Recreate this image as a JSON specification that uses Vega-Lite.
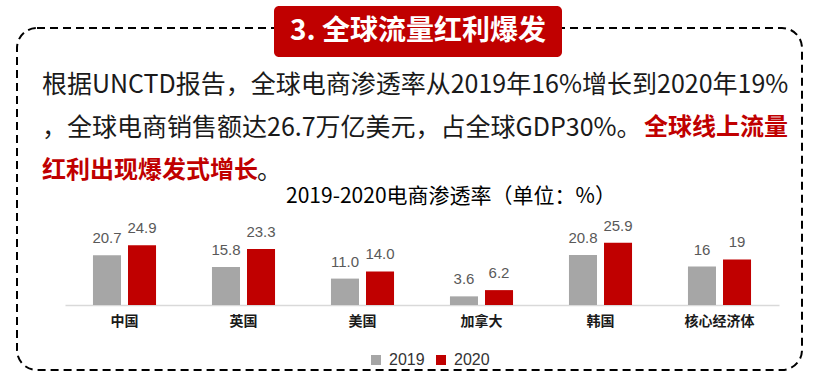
{
  "$schema": "https://vega.github.io/schema/vega-lite/v6.json",
  "width": 714,
  "height": 84,
  "autosize": {"type": "none"},
  "padding": {"left": 65, "top": 221, "right": 43, "bottom": 75},
  "background": "#ffffff",
  "config": {"view": {"stroke": null}},
  "datasets": {
    "rates": [
      {"country": "中国", "year": "2019", "value": 20.7, "label": "20.7"},
      {"country": "中国", "year": "2020", "value": 24.9, "label": "24.9"},
      {"country": "英国", "year": "2019", "value": 15.8, "label": "15.8"},
      {"country": "英国", "year": "2020", "value": 23.3, "label": "23.3"},
      {"country": "美国", "year": "2019", "value": 11.0, "label": "11.0"},
      {"country": "美国", "year": "2020", "value": 14.0, "label": "14.0"},
      {"country": "加拿大", "year": "2019", "value": 3.6, "label": "3.6"},
      {"country": "加拿大", "year": "2020", "value": 6.2, "label": "6.2"},
      {"country": "韩国", "year": "2019", "value": 20.8, "label": "20.8"},
      {"country": "韩国", "year": "2020", "value": 25.9, "label": "25.9"},
      {"country": "核心经济体", "year": "2019", "value": 16, "label": "16"},
      {"country": "核心经济体", "year": "2020", "value": 19, "label": "19"}
    ]
  },
  "data": {"name": "rates"},
  "layer": [
    {
      "data": {"values": [{}]},
      "mark": {"type": "rect", "x": -48, "x2": 737, "y": -193, "y2": 149, "fill": "transparent", "stroke": "#000000", "strokeWidth": 2, "strokeDash": [8, 5], "cornerRadius": 20},
      "encoding": {}
    },
    {
      "data": {"values": [{}]},
      "mark": {"type": "rect", "x": 209, "x2": 497, "y": -215, "y2": -164, "fill": "#c00000", "cornerRadius": 5},
      "encoding": {}
    },
    {
      "data": {"values": [{}]},
      "mark": {"type": "text", "text": "3. 全球流量红利爆发", "x": 353, "y": -189, "align": "center", "baseline": "middle", "font": "Noto Sans CJK SC", "fontSize": 28, "fontWeight": "bold", "color": "#ffffff"},
      "encoding": {}
    },
    {
      "data": {"values": [{}]},
      "mark": {"type": "text", "text": "根据UNCTD报告，全球电商渗透率从2019年16%增长到2020年19%", "x": -23, "y": -136, "align": "left", "baseline": "middle", "font": "Noto Sans CJK SC", "fontSize": 25, "color": "#1a1a1a"},
      "encoding": {}
    },
    {
      "data": {"values": [{}]},
      "mark": {"type": "text", "text": "，全球电商销售额达26.7万亿美元，占全球GDP30%。", "x": -23, "y": -93, "align": "left", "baseline": "middle", "font": "Noto Sans CJK SC", "fontSize": 25, "color": "#1a1a1a"},
      "encoding": {}
    },
    {
      "data": {"values": [{}]},
      "mark": {"type": "text", "text": "全球线上流量", "x": 723, "y": -93, "align": "right", "baseline": "middle", "font": "Noto Sans CJK SC", "fontSize": 24, "fontWeight": "bold", "color": "#c00000"},
      "encoding": {}
    },
    {
      "data": {"values": [{}]},
      "mark": {"type": "text", "text": "红利出现爆发式增长", "x": -23, "y": -50, "align": "left", "baseline": "middle", "font": "Noto Sans CJK SC", "fontSize": 24, "fontWeight": "bold", "color": "#c00000"},
      "encoding": {}
    },
    {
      "data": {"values": [{}]},
      "mark": {"type": "text", "text": "。", "x": 192, "y": -50, "align": "left", "baseline": "middle", "font": "Noto Sans CJK SC", "fontSize": 25, "color": "#1a1a1a"},
      "encoding": {}
    },
    {
      "data": {"values": [{}]},
      "mark": {"type": "text", "text": "2019-2020电商渗透率（单位：%）", "x": 386, "y": -24, "align": "center", "baseline": "middle", "font": "Noto Sans CJK SC", "fontSize": 21, "color": "#000000"},
      "encoding": {}
    },
    {
      "mark": {"type": "bar"},
      "encoding": {
        "x": {
          "field": "country", "type": "nominal",
          "sort": ["中国", "英国", "美国", "加拿大", "韩国", "核心经济体"],
          "scale": {"paddingInner": 0.47, "paddingOuter": 0.235},
          "axis": {"title": null, "labelAngle": 0, "ticks": false, "domainColor": "#d9d9d9", "domainWidth": 1.5, "labelFont": "Noto Sans CJK SC", "labelFontSize": 14, "labelFontWeight": "bold", "labelColor": "#1a1a1a", "labelPadding": 9}
        },
        "xOffset": {"field": "year", "type": "nominal", "scale": {"paddingInner": 0.2, "paddingOuter": 0}},
        "y": {"field": "value", "type": "quantitative", "scale": {"domain": [0, 35]}, "axis": null},
        "color": {
          "field": "year", "type": "nominal",
          "scale": {"domain": ["2019", "2020"], "range": ["#a6a6a6", "#c00000"]},
          "legend": {"title": null, "orient": "none", "legendX": 303, "legendY": 131, "direction": "horizontal", "symbolType": "square", "symbolSize": 100, "symbolStrokeWidth": 0, "labelFont": "Liberation Sans", "labelFontSize": 16, "labelColor": "#333333", "labelOffset": 5, "columnPadding": 8}
        }
      }
    },
    {
      "mark": {"type": "text", "baseline": "alphabetic", "dy": -12, "font": "Liberation Sans", "fontSize": 15, "color": "#595959"},
      "encoding": {
        "x": {"field": "country", "type": "nominal", "sort": ["中国", "英国", "美国", "加拿大", "韩国", "核心经济体"]},
        "xOffset": {"field": "year", "type": "nominal"},
        "y": {"field": "value", "type": "quantitative"},
        "text": {"field": "label"}
      }
    }
  ]
}
